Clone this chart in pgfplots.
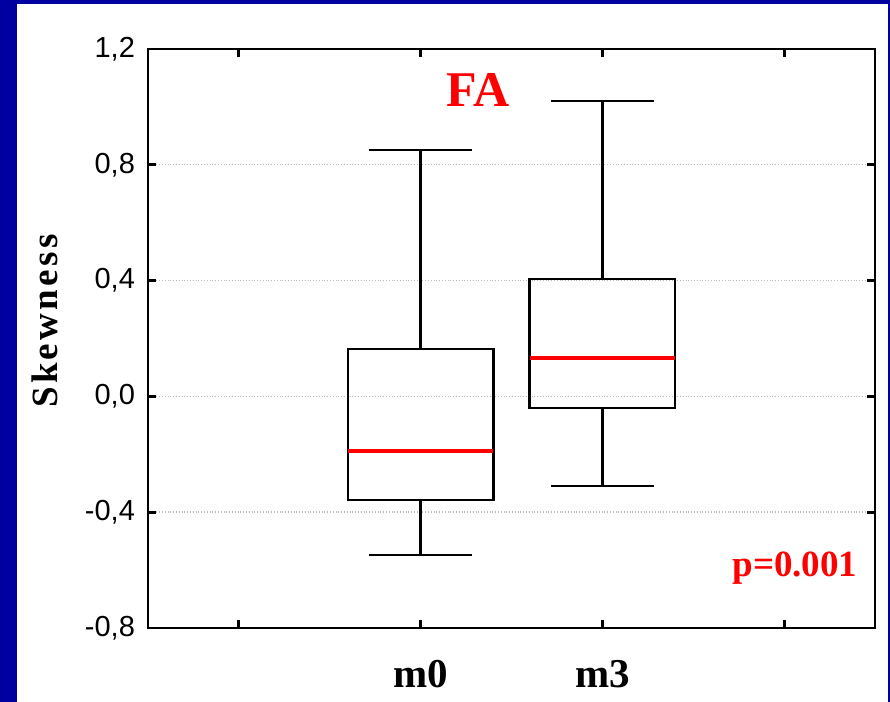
\documentclass[border=0pt]{standalone}
\usepackage{fontspec}
\setmainfont{Liberation Serif}
\newfontfamily\sans{Liberation Sans}
\newfontfamily\spaced[LetterSpace=9]{Liberation Serif}
\usepackage{pgfplots}
\pgfplotsset{compat=1.18}
\usepgfplotslibrary{statistics}
\definecolor{frameblue}{RGB}{0,0,160}

\begin{document}
\begin{tikzpicture}
% blue frame and white panel (1 px = 0.5 pt)
\fill[frameblue] (0,0) rectangle (445pt,351pt);
\fill[white] (8.5pt,0) rectangle (444pt,349pt);
\useasboundingbox (0,0) rectangle (445pt,351pt);
\begin{axis}[
    at={(74pt,37pt)}, anchor=south west,
    scale only axis,
    width=363.5pt, height=289.5pt,
    xmin=-0.5, xmax=3.5,
    ymin=-0.8, ymax=1.2,
    xtick={0,1,2,3},
    xticklabels={,m0,m3,},
    ytick={-0.8,-0.4,0,0.4,0.8,1.2},
    tick align=inside,
    xtick pos=both, ytick pos=both,
    yticklabel pos=left,
    major tick length=4pt,
    every tick/.style={black, line width=1.4pt},
    axis line style={line width=1.4pt},
    ymajorgrids,
    major grid style={gray!55, densely dotted, line width=0.7pt},
    yticklabel style={font=\sans\fontsize{14.5}{16}\selectfont, xshift=-3pt,
        /pgf/number format/.cd, fixed, fixed zerofill, precision=1, use comma, assume math mode=true},
    xticklabel style={font=\bfseries\fontsize{20.5}{22}\selectfont, anchor=center, yshift=-23pt},
    ylabel={\spaced\bfseries Skewness},
    ylabel style={font=\fontsize{18.5}{20}\selectfont, at={(axis description cs:-0.1417,0.53)}, anchor=center},
    boxplot/draw direction=y,
    boxplot/box extend=0.8,
    boxplot/whisker extend=0.57,
    boxplot/every box/.style={draw=black, line width=1.2pt},
    boxplot/every whisker/.style={black, line width=1.2pt},
    boxplot/every median/.style={red, line width=2pt},
]
\addplot[boxplot prepared={draw direction=y, draw position=1,
    lower whisker=-0.548, lower quartile=-0.358, median=-0.189,
    upper quartile=0.164, upper whisker=0.851}] coordinates {};
\addplot[boxplot prepared={draw direction=y, draw position=2,
    lower whisker=-0.310, lower quartile=-0.040, median=0.133,
    upper quartile=0.406, upper whisker=1.020}] coordinates {};
\node[red, font=\bfseries\fontsize{25}{27}\selectfont] at (axis cs:1.316,1.058) {FA};
\node[red, font=\bfseries\fontsize{18.5}{20}\selectfont] at (axis cs:3.06,-0.593) {p=0.001};
\end{axis}
\end{tikzpicture}
\end{document}
